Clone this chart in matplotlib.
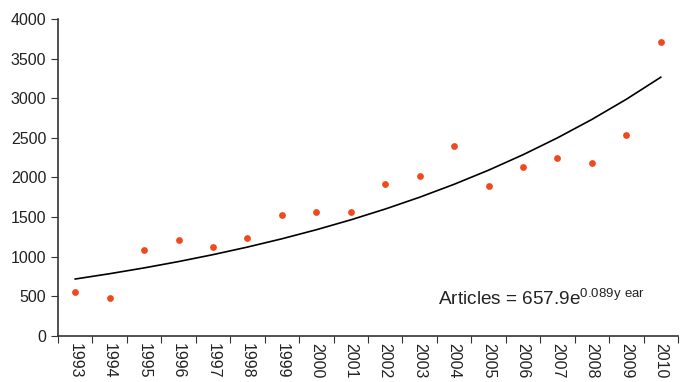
import numpy as np
import matplotlib
matplotlib.use("Agg")
import matplotlib.pyplot as plt

plt.rcParams['font.family'] = ['Liberation Sans', 'DejaVu Sans']
plt.rcParams['mathtext.fontset'] = 'custom'
plt.rcParams['mathtext.rm'] = 'Liberation Sans'

years = ["1993", "1994", "1995", "1996", "1997", "1998", "1999", "2000", "2001",
         "2002", "2003", "2004", "2005", "2006", "2007", "2008", "2009", "2010"]
articles = [551, 480, 1085, 1215, 1123, 1233, 1527, 1565, 1562,
            1914, 2023, 2393, 1897, 2137, 2246, 2187, 2536, 3714]

# exponential trendline as printed on the chart
fit_a = 657.9
fit_b = 0.089

x = np.arange(len(years))
trend = fit_a * np.exp(fit_b * (x + 1))

fig = plt.figure(figsize=(6.81, 3.82), dpi=100)
ax = fig.add_axes([0.0852, 0.1204, 0.9104, 0.8299])

ax.plot(x, trend, color='black', lw=1.2)
ax.scatter(x, articles, s=24, color='#ef4a1f', zorder=3, linewidths=0)

ax.set_xlim(-0.5, len(years) - 0.5)
ax.set_ylim(0, 4000)
ax.set_yticks(np.arange(0, 4001, 500))

# ticks sit between categories, labels at centres
ax.set_xticks(np.arange(-0.5, len(years)), minor=False)
ax.set_xticklabels([])
ax.set_xticks(x, minor=True)
ax.set_xticklabels(years, minor=True, rotation=270, fontsize=11.5, color='#222222')
ax.tick_params(axis='x', which='minor', length=0, pad=5)
ax.tick_params(axis='x', which='major', length=5, color='#333333')
ax.tick_params(axis='y', length=5, labelsize=11.5, labelcolor='#222222', color='#333333')

for s in ['top', 'right']:
    ax.spines[s].set_visible(False)
for s in ['left', 'bottom']:
    ax.spines[s].set_color('#333333')
    ax.spines[s].set_linewidth(1.2)

ax.text(10.53, 391, r"Articles = 657.9e$^{\mathregular{0.089y\ ear}}$",
        fontsize=13.7, color='#222222', va='baseline')

fig.savefig("out.png", dpi=100)
